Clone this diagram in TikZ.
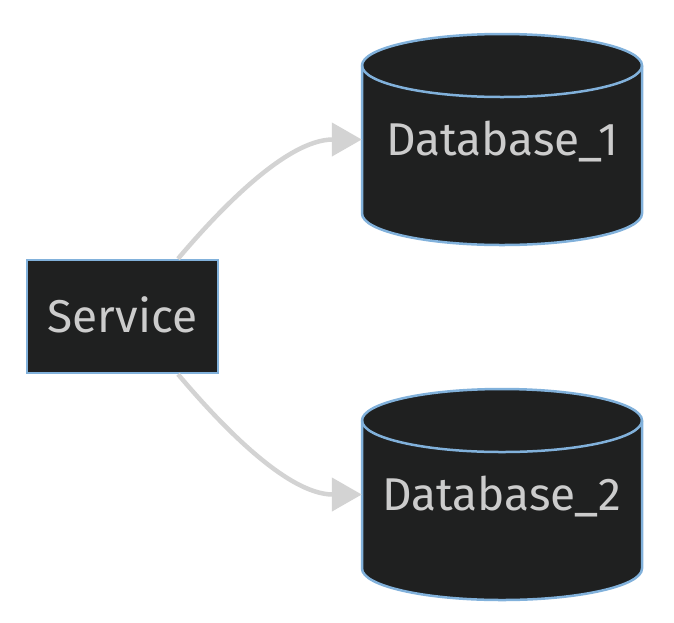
\documentclass[tikz,border=0pt]{standalone}
\usepackage{fontspec}
\setmainfont{Fira Sans}
\usetikzlibrary{arrows.meta}
\definecolor{nodefill}{HTML}{1F2020}
\definecolor{nodeborder}{HTML}{81B1DB}
\definecolor{edgecol}{HTML}{D3D3D3}
\definecolor{txtcol}{HTML}{CCCCCC}
\newcommand{\dbcylinder}[2]{%
  \path[cylfill] (#1-140,#2-74) -- (#1-140,#2+74)
    arc[start angle=180,end angle=360,x radius=140pt,y radius=31.5pt]
    -- (#1+140,#2-74)
    arc[start angle=0,end angle=180,x radius=140pt,y radius=31.5pt] -- cycle;
  \draw[cylline] (#1-140,#2-74) arc[start angle=180,end angle=360,x radius=140pt,y radius=31.5pt];
}
\begin{document}
\begin{tikzpicture}[x=1pt,y=-1pt,
  cylfill/.style={fill=nodefill,draw=nodeborder,line width=2.5pt},
  cylline/.style={draw=nodeborder,line width=2.5pt},
  box/.style={rectangle,fill=nodefill,draw=nodeborder,line width=2.5pt,
    minimum width=191pt,minimum height=113pt,inner sep=0pt},
  lbl/.style={text=txtcol,font=\fontsize{46}{50}\selectfont,
    text height=32pt,text depth=0pt,inner sep=0pt},
  dbnode/.style={rectangle,minimum width=280pt,minimum height=210pt,inner sep=0pt},
  edge/.style={draw=edgecol,line width=4.5pt,-{Triangle[length=30pt,width=33pt]}}]
\useasboundingbox (0,0) rectangle (674,622);
\node[box,lbl] (svc) at (122.5,316.5) {Service};
\dbcylinder{502}{139.5}
\dbcylinder{502}{494.5}
\node[dbnode,lbl] (db1) at (502,139.5) {Database\_1};
\node[dbnode,lbl] (db2) at (502,494.5) {Database\_2};
\draw[edge] ([xshift=55.5pt]svc.north) .. controls (215,215) and (285,139.5) .. (db1.west);
\draw[edge] ([xshift=55.5pt]svc.south) .. controls (215,418) and (285,494.5) .. (db2.west);
\end{tikzpicture}
\end{document}
